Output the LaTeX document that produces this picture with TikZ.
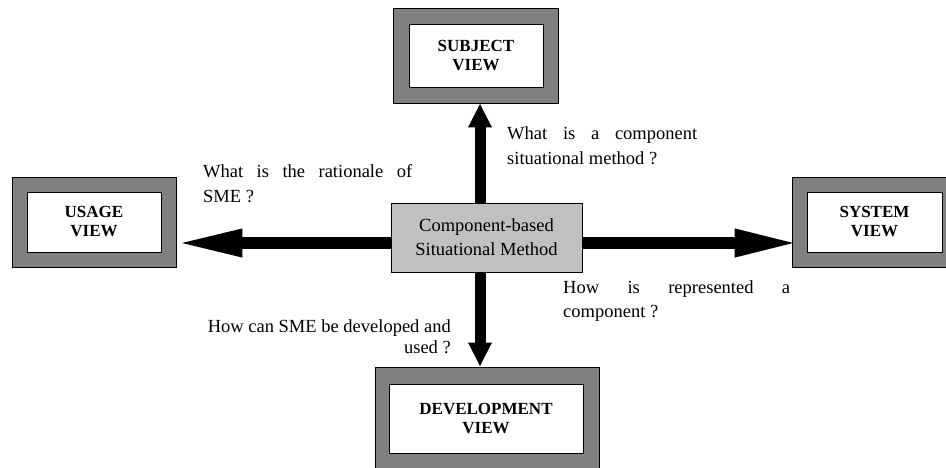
\documentclass[tikz,border=0pt]{standalone}
\usepackage{fontspec}
\setmainfont{Liberation Serif}
\usetikzlibrary{arrows.meta}
\definecolor{framegray}{RGB}{128,128,128}
\definecolor{coregray}{RGB}{192,192,192}

\begin{document}
\begin{tikzpicture}[x=1pt,y=-1pt,
  frame/.style={draw=black,fill=framegray,line width=0.8pt,inner sep=0pt},
  panel/.style={draw=black,fill=white,line width=0.8pt,inner sep=0pt,
    align=center,font=\fontsize{17}{19}\selectfont\bfseries},
  core/.style={draw=black,fill=coregray,line width=0.8pt,inner sep=0pt,
    align=center,font=\fontsize{18.5}{24}\selectfont},
  question/.style={inner sep=0pt,align=left,font=\fontsize{18.5}{25}\selectfont},
  hbar/.style={line width=12pt,-{Triangle[length=#1,width=25pt]}},
  vbar/.style={line width=11pt,-{Triangle[length=24pt,width=22pt]}}]
\useasboundingbox (0,0) rectangle (946,468);

% the four views
\node[frame,minimum width=165pt,minimum height=95pt] (subjectframe) at (475.5,55.5) {};
\node[panel,minimum width=134pt,minimum height=63pt] (subject) at (476,55.5) {SUBJECT\\VIEW};
\node[frame,minimum width=164pt,minimum height=90pt] (usageframe) at (94,222) {};
\node[panel,minimum width=134pt,minimum height=60pt] (usage) at (94,222) {USAGE\\VIEW};
\node[frame,minimum width=165pt,minimum height=90pt] (systemframe) at (874.5,222) {};
\node[panel,minimum width=135pt,minimum height=60pt] (system) at (874.5,222) {SYSTEM\\VIEW};
\node[frame,minimum width=224pt,minimum height=103pt] (devframe) at (487,418.5) {};
\node[panel,minimum width=194pt,minimum height=69pt] (dev) at (486,418.5) {DEVELOPMENT\\VIEW};

% centre
\node[core,minimum width=191pt,minimum height=69pt] (method) at (486.5,237.5)
  {Component-based\\Situational Method};

% arrows
\draw[hbar=66pt] ([yshift=-5.5pt]method.east) -- ([xshift=9pt,yshift=-5.5pt]method.east -| systemframe.west);
\draw[hbar=68pt] ([yshift=-5.5pt]method.west) -- ([xshift=-2pt,yshift=-5.5pt]method.west -| usageframe.east);
\draw[vbar] ([xshift=-6.5pt]method.north) -- ([xshift=-6.5pt]method.north |- subjectframe.south);
\draw[vbar] ([xshift=-6.5pt]method.south) -- ([xshift=-6.5pt]method.south |- devframe.north);

% questions
\node[question,anchor=base west] (q1) at (507,165)
  {\makebox[190pt][s]{What is a component}\\situational method ?};
\node[question,anchor=base west] (q2) at (203,203)
  {\makebox[209pt][s]{What is the rationale of}\\SME ?};
\node[question,anchor=base west,font=\fontsize{18.5}{24}\selectfont] (q3) at (563,317)
  {\makebox[227pt][s]{How is represented a}\\component ?};
\node[question,anchor=base east,align=right,font=\fontsize{18.5}{21}\selectfont] (q4) at (451,353)
  {How can SME be developed and\\used ?};
\end{tikzpicture}
\end{document}
